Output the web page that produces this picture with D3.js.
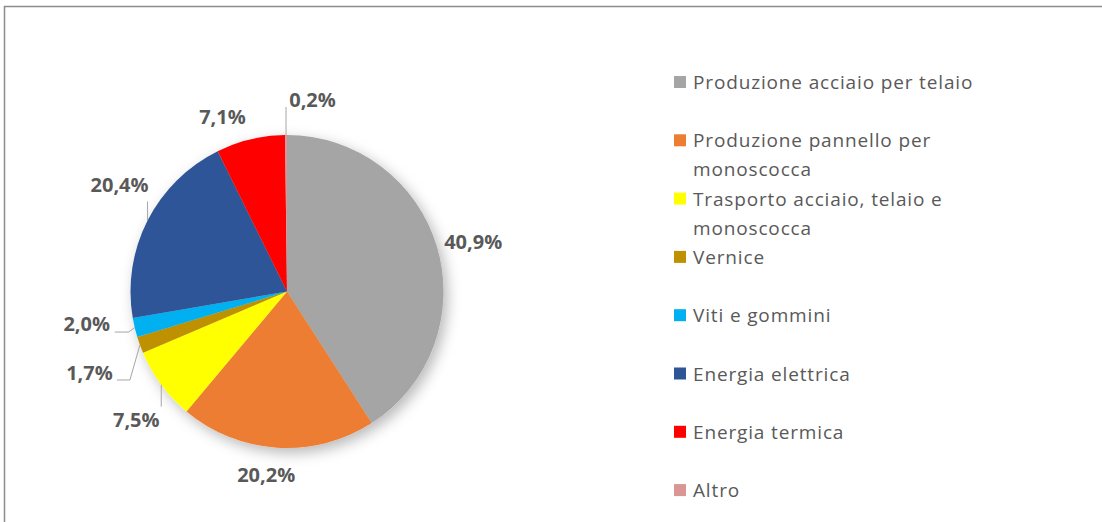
<!DOCTYPE html>
<html>
<head>
<meta charset="utf-8">
<script src="https://cdn.jsdelivr.net/npm/d3@7"></script>
<style>
  html, body { margin: 0; padding: 0; background: #fff; }
  svg { display: block; }
</style>
</head>
<body>
<svg id="chart" width="1102" height="522"></svg>
<script>
// chart data
const categories = [
    "Produzione acciaio per telaio",
    "Produzione pannello per monoscocca",
    "Trasporto acciaio, telaio e monoscocca",
    "Vernice",
    "Viti e gommini",
    "Energia elettrica",
    "Energia termica",
    "Altro"
];
const values = [40.9, 20.2, 7.5, 1.7, 2.0, 20.4, 7.1, 0.2];
const labels = ["40,9%", "20,2%", "7,5%", "1,7%", "2,0%", "20,4%", "7,1%", "0,2%"];
const colors = ["#a5a5a5", "#ed7d31", "#ffff00", "#bf9000", "#00b0f0", "#2f5597", "#ff0000", "#da9694"];

// label placement, relative to the slice's outer edge point
const labelLayout = [
    { dx: 36, dy: -6 },
    { dx: -11, dy: 27 },
    { dx: -25, dy: 35, leader: [[0, 22]] },
    { dx: -50.5, dy: 28, leader: [[-10, 35], [-23, 35]] },
    { dx: -48, dy: -4.5, leader: [[-6, 4.5], [-20, 4.5]] },
    { dx: -28, dy: -36, leader: [[0, -19]] },
    { dx: -28, dy: -23 },
    { dx: 26.5, dy: -36, leader: [[0, -28]] }
];

const svg = d3.select("#chart"),
    cx = 287, cy = 291.5, radius = 156.5;

// chart frame
svg.append("rect")
    .attr("x", 4.5).attr("y", 6.5)
    .attr("width", 1200).attr("height", 600)
    .attr("fill", "none")
    .attr("stroke", "#8c8c8c")
    .attr("stroke-width", 1.5);

const defs = svg.append("defs");
const shadow = defs.append("filter").attr("id", "shadow")
    .attr("x", "-20%").attr("y", "-20%").attr("width", "150%").attr("height", "150%");
shadow.append("feDropShadow")
    .attr("dx", 4).attr("dy", 5)
    .attr("stdDeviation", 7)
    .attr("flood-color", "#000")
    .attr("flood-opacity", 0.28);

const pie = d3.pie().sort(null).value(d => d)(values);
const arc = d3.arc().innerRadius(0).outerRadius(radius);
const edge = d3.arc().innerRadius(radius).outerRadius(radius);

const g = svg.append("g").attr("transform", "translate(" + cx + "," + cy + ")");

g.append("g")
    .attr("filter", "url(#shadow)")
    .selectAll("path")
    .data(pie)
    .enter().append("path")
    .attr("d", arc)
    .attr("fill", (d, i) => colors[i]);

// data labels and leader lines
pie.forEach((d, i) => {
    const p = edge.centroid(d), l = labelLayout[i];
    if (l.leader) {
        const pts = [p].concat(l.leader.map(q => [p[0] + q[0], p[1] + q[1]]));
        g.append("path")
            .attr("d", d3.line()(pts))
            .attr("fill", "none")
            .attr("stroke", "#a6a6a6")
            .attr("stroke-width", 1);
    }
    g.append("text")
        .attr("x", p[0] + l.dx)
        .attr("y", p[1] + l.dy)
        .attr("text-anchor", "middle")
        .attr("dominant-baseline", "central")
        .attr("font-family", "'Open Sans', sans-serif")
        .attr("font-weight", 700)
        .attr("font-size", "20px")
        .attr("fill", "#595959")
        .text(labels[i]);
});

// legend
const legendX = 674, legendY = 82, legendStep = 58.3, maxWidth = 300;
const legend = svg.append("g");
categories.forEach((c, i) => {
    const y = legendY + i * legendStep;
    legend.append("rect")
        .attr("x", legendX).attr("y", y - 6)
        .attr("width", 12).attr("height", 12)
        .attr("fill", colors[i]);
    const t = legend.append("text")
        .attr("x", legendX + 19)
        .attr("y", y)
        .attr("dominant-baseline", "central")
        .attr("font-family", "'Open Sans', sans-serif")
        .attr("font-size", "19px")
        .attr("letter-spacing", "0.85px")
        .attr("fill", "#595959");
    // wrap long names
    const words = c.split(" ");
    let line = [];
    let tspan = t.append("tspan").attr("x", legendX + 19).attr("dy", 0);
    words.forEach(w => {
        line.push(w);
        tspan.text(line.join(" "));
        if (tspan.node().getComputedTextLength() > maxWidth && line.length > 1) {
            line.pop();
            tspan.text(line.join(" "));
            line = [w];
            tspan = t.append("tspan").attr("x", legendX + 19).attr("dy", "29px").text(w);
        }
    });
});
</script>
</body>
</html>
